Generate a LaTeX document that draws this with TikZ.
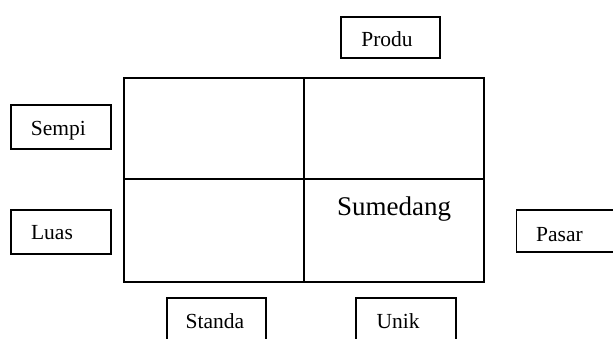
\documentclass[tikz,border=0pt]{standalone}
\usepackage{fontspec}
\setmainfont{Liberation Serif}
\begin{document}
\begin{tikzpicture}[x=1pt,y=-1pt,
  frame/.style={draw=black,line width=1.6pt,rectangle,inner sep=0pt},
  lbl/.style={anchor=base,inner sep=0pt,font=\fontsize{21.5}{25}\selectfont},
  big/.style={anchor=base,inner sep=0pt,font=\fontsize{27}{31}\selectfont}]
\useasboundingbox (0,0) rectangle (613,338);
% central grid
\draw[line width=1.6pt] (124,78) rectangle (484,282);
\draw[line width=1.6pt] (304,78) -- (304,282);
\draw[line width=1.6pt] (124,179) -- (484,179);
\node[big] (sum) at (394,215) {Sumedang};
% boxes
\node[frame,minimum width=99pt,minimum height=41pt] (produbox) at (390.5,37.5) {};
\node[lbl] (produ) at (387,46.7) {Produ};
\node[frame,minimum width=100pt,minimum height=44pt] (sempibox) at (61,127) {};
\node[lbl] (sempi) at (58.3,135) {Sempi};
\node[frame,minimum width=100pt,minimum height=44pt] (luasbox) at (61,232) {};
\node[lbl] (luas) at (52,239) {Luas};
\node[frame,minimum width=99pt,minimum height=44pt] (standabox) at (216.5,320) {};
\node[lbl] (standa) at (215,328) {Standa};
\node[frame,minimum width=100pt,minimum height=44pt] (unikbox) at (406,320) {};
\node[lbl] (unik) at (398,328) {Unik};
\node[frame,minimum width=100pt,minimum height=42pt] (pasarbox) at (566.5,231) {};
\node[lbl] (pasar) at (559.5,241) {Pasar};
\end{tikzpicture}
\end{document}
